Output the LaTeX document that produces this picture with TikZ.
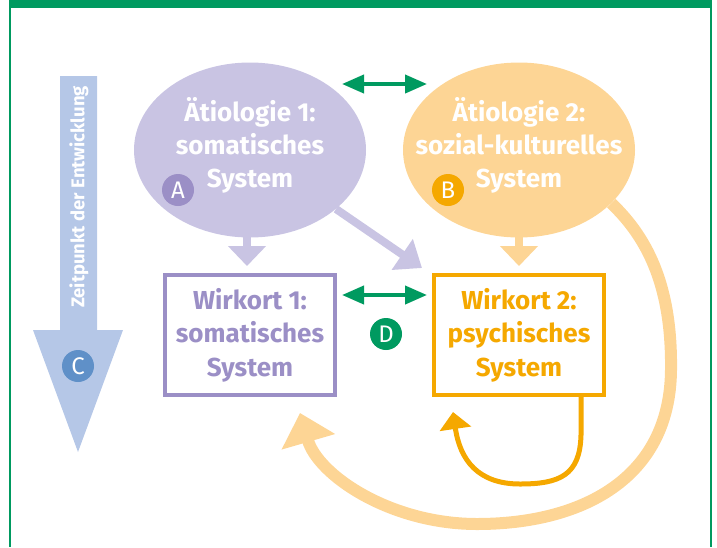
\documentclass[tikz,border=0pt]{standalone}
\usepackage{fontspec}
\setmainfont{Fira Sans}
\usetikzlibrary{arrows.meta,shapes.geometric,calc}
\definecolor{fgreen}{RGB}{0,154,96}
\definecolor{lav}{RGB}{201,196,227}
\definecolor{lavdark}{RGB}{155,143,198}
\definecolor{peach}{RGB}{253,213,149}
\definecolor{orng}{RGB}{245,168,0}
\definecolor{lblue}{RGB}{181,199,231}
\definecolor{dblue}{RGB}{95,144,200}
\tikzset{
  ell/.style={ellipse,minimum width=232pt,minimum height=175pt,inner sep=0pt},
  elltext/.style={text=white,font=\fontsize{26}{33}\selectfont\bfseries,align=center},
  boxnode/.style={draw,line width=4pt,fill=white,minimum width=170pt,minimum height=120pt,
     font=\fontsize{26}{33.5}\selectfont\bfseries,align=center,inner sep=0pt},
  badge/.style={circle,minimum size=32pt,inner sep=0pt,text=white,font=\fontsize{24}{24}\selectfont},
  dblarrow/.style={draw=fgreen,line width=4pt,{Triangle[length=22pt,width=18pt]}-{Triangle[length=22pt,width=18pt]}},
  downarrow/.style={line width=8pt,-{Triangle[length=20pt,width=37pt]}},
}
\begin{document}
\begin{tikzpicture}[x=1pt,y=-1pt]
\useasboundingbox (0,0) rectangle (717,547);
% frame
\fill[fgreen] (9,0) rectangle (712,8);
\draw[fgreen,line width=1.5pt] (10,0) -- (10,547);
\draw[fgreen,line width=1.5pt] (711,0) -- (711,547);
% time arrow
\fill[lblue] (60,76) -- (97,76) -- (97,330) -- (123,330) -- (78,452) -- (33,330) -- (60,330) -- cycle;
\node[rotate=90,text=white,font=\fontsize{18.5}{18.5}\selectfont\bfseries] (zeit) at (79,197) {Zeitpunkt der Entwicklung};
\node[badge,fill=dblue] (bC) at (78,366) {C};
\coordinate (diag) at (422,268);
% ellipses
\node[ell,fill=lav] (eA) at (250,150) {};
\node[ell,fill=peach] (eB) at (519,150) {};
\draw[line width=8pt,draw=lav,-{Triangle[length=24pt,width=36pt]}] (eA) -- (diag);
\node[elltext] (tA) at ($(eA.center)+(0,-5)$) {Ätiologie 1:\\somatisches\\System};
\node[elltext] (tB) at ($(eB.center)+(0,-5)$) {Ätiologie 2:\\sozial-kulturelles\\System};
\node[badge,fill=lavdark] (bA) at (178,190) {A};
\node[badge,fill=orng] (bB) at (448,190) {B};
% boxes
\node[boxnode,draw=lavdark,text=lavdark] (w1) at (250,335) {Wirkort 1:\\somatisches\\System};
\node[boxnode,draw=orng,text=orng] (w2) at (519,335) {Wirkort 2:\\psychisches\\System};
\node[badge,fill=fgreen] (bD) at (386,334) {D};
% green arrows
\coordinate (g1l) at (342,84);
\coordinate (g1r) at (427,84);
\draw[dblarrow] (g1l) -- (g1r);
\coordinate (g2l) at (342,295);
\coordinate (g2r) at (427,295);
\draw[dblarrow] (g2l) -- (g2r);
% down arrows
\coordinate (dA) at ($(w1.north)+(-3,-7)$);
\draw[downarrow,draw=lav] ($(eA.south)+(-3,-2)$) -- (dA);
\coordinate (dB) at ($(w2.north)+(0,-7)$);
\draw[downarrow,draw=peach] ($(eB.south)+(0,-2)$) -- (dB);
% big curve
\coordinate (bigtip) at (300,413);
\draw[peach,line width=12pt,-{Triangle[length=30pt,width=54pt]}]
  (eB.-30) .. controls (650,240) and (672,290) .. (671,370)
  .. controls (670,480) and (580,524) .. (477,524)
  .. controls (390,524) and (318,475) .. (bigtip);
% small loop
\coordinate (lpstart) at ($(w2.south east)+(-25,-2)$);
\coordinate (lptip) at (453,412);
\draw[orng,line width=5pt,-{Triangle[length=17pt,width=31pt]}]
  (lpstart) -- ++(0,40) .. controls (580,475) and (560,484) .. (520,484)
  .. controls (478,484) and (460,460) .. (lptip);
\end{tikzpicture}
\end{document}
